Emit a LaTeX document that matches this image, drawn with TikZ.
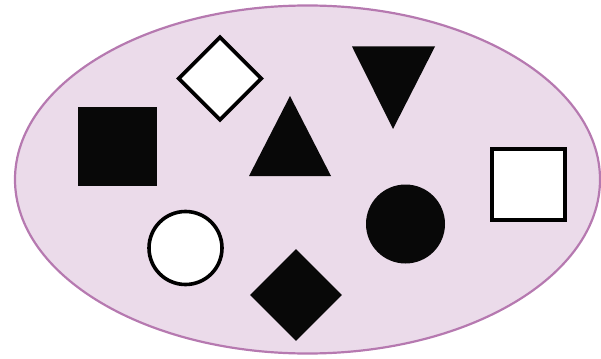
\documentclass[tikz,border=0pt]{standalone}
\usepackage{tikz}
\usetikzlibrary{shapes.geometric}
\definecolor{setfill}{RGB}{235,219,234}
\definecolor{setline}{RGB}{182,121,176}
\definecolor{shapeblack}{RGB}{8,8,8}
\tikzset{
  setshape/.style={ellipse,draw=setline,fill=setfill,line width=2.2pt,inner sep=0pt},
  bsq/.style={rectangle,fill=shapeblack,inner sep=0pt,minimum size=79pt},
  wsq/.style={rectangle,draw=black,fill=white,line width=3.6pt,inner sep=0pt,minimum width=73pt,minimum height=71pt},
  bdot/.style={circle,fill=shapeblack,inner sep=0pt,minimum size=79pt},
  wdot/.style={circle,draw=black,fill=white,line width=3.6pt,inner sep=0pt,minimum size=73pt},
  bdia/.style={diamond,fill=shapeblack,inner sep=0pt,aspect=1,minimum size=92pt},
  wdia/.style={diamond,draw=black,fill=white,line width=3.6pt,inner sep=0pt,aspect=1,minimum size=84pt},
}
\begin{document}
\begin{tikzpicture}[x=1pt,y=-1pt]
  \useasboundingbox (0,0) rectangle (601,358);
  \node[setshape,minimum width=585pt,minimum height=348pt] (set) at (307.5,179.5) {};
  \node[bsq] (sqa) at (117.5,146.5) {};
  \node[wdia] (diaa) at (220,78.5) {};
  \node[wsq] (sqb) at (528.5,184.5) {};
  \node[wdot] (dota) at (185.5,248) {};
  \node[bdot] (dotb) at (405.5,224) {};
  \node[bdia] (diab) at (296,295) {};
  % triangles
  \coordinate (tria) at (290,96);
  \coordinate (trib) at (393,129);
  \fill[shapeblack] (tria) -- (331,176) -- (249,176) -- cycle;
  \fill[shapeblack] (trib) -- (352,46.5) -- (435,46.5) -- cycle;
\end{tikzpicture}
\end{document}
